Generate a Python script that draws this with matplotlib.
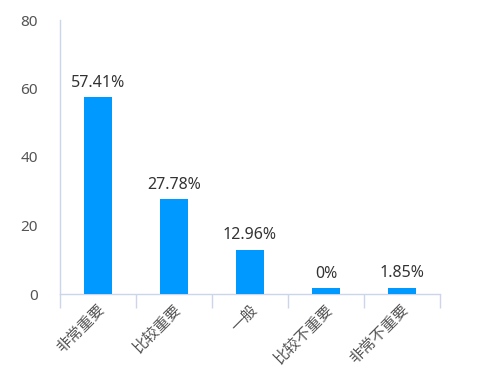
import matplotlib
matplotlib.use("Agg")
import matplotlib.pyplot as plt
import numpy as np

categories = ["非常重要", "比较重要", "一般", "比较不重要", "非常不重要"]
values = [57.41, 27.78, 12.96, 0, 1.85]
labels = ["57.41%", "27.78%", "12.96%", "0%", "1.85%"]
yticks = [0, 20, 40, 60, 80]

MIN_H = 1.8  # minimum visible bar height (style)

plt.rcParams['font.family'] = ['Noto Sans', 'Noto Sans CJK SC', 'DejaVu Sans']

fig = plt.figure(figsize=(4.9, 3.73), dpi=100)
ax = fig.add_axes([60/490, 79/373, 380/490, 274/373])

x = np.arange(len(categories))
heights = np.maximum(values, MIN_H)
ax.bar(x, heights, width=0.36, color="#0099FF", zorder=3)
for xi, h, lab in zip(x, heights, labels):
    ax.text(xi, h + 1.8, lab, ha='center', va='bottom', fontsize=11.5, color="#333333")

ax.set_xlim(-0.5, len(categories) - 0.5)
ax.set_ylim(0, 80)
ax.set_yticks(yticks)
ax.set_yticklabels([str(t) for t in yticks], fontsize=11, color="#555555")
ax.tick_params(axis='y', length=0, pad=16)

ax.set_xticks(x)
ax.set_xticklabels(categories, rotation=45, ha='right', va='top', rotation_mode='anchor',
                   fontsize=11, color="#555555")
ax.tick_params(axis='x', length=0, pad=6)
ax.set_xticks(np.arange(len(categories) + 1) - 0.5, minor=True)
ax.tick_params(axis='x', which='minor', length=10, width=1, color="#ccd6eb", direction='out')

for s in ['top', 'right']:
    ax.spines[s].set_visible(False)
ax.spines['left'].set_color("#ccd6eb")
ax.spines['bottom'].set_color("#ccd6eb")
ax.spines['left'].set_linewidth(1)
ax.spines['bottom'].set_linewidth(1)

fig.savefig("out.png", dpi=100)
